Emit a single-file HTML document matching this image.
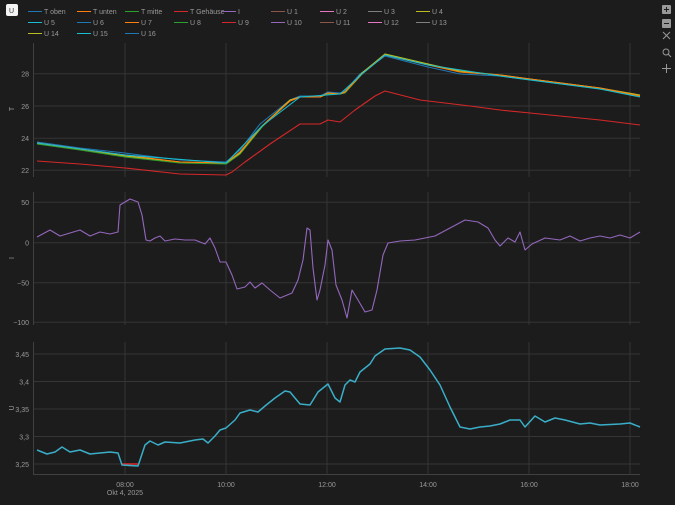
<!DOCTYPE html>
<html><head><meta charset="utf-8"><style>
body{margin:0;background:#1c1c1c;width:675px;height:500px;overflow:hidden;font-family:"Liberation Sans",sans-serif}
text{font-family:"Liberation Sans",sans-serif;fill:#999;font-size:7px}
</style></head><body>
<svg width="675" height="500" xmlns="http://www.w3.org/2000/svg">
<rect width="675" height="500" fill="#1c1c1c"/>
<rect x="6" y="4" width="12" height="12" rx="2" fill="#f4f4f4"/>
<text x="9" y="13" style="fill:#333;font-size:7px">U</text>
<g fill="none" stroke-width="1">
<g stroke="#353535">
<line x1="34" y1="73.7" x2="640" y2="73.7"/><line x1="34" y1="106" x2="640" y2="106"/><line x1="34" y1="138.3" x2="640" y2="138.3"/><line x1="34" y1="170.3" x2="640" y2="170.3"/>
<line x1="34" y1="202.3" x2="640" y2="202.3"/><line x1="34" y1="242.7" x2="640" y2="242.7"/><line x1="34" y1="282.7" x2="640" y2="282.7"/><line x1="34" y1="322.3" x2="640" y2="322.3"/>
<line x1="34" y1="354" x2="640" y2="354"/><line x1="34" y1="381.5" x2="640" y2="381.5"/><line x1="34" y1="409" x2="640" y2="409"/><line x1="34" y1="436.5" x2="640" y2="436.5"/><line x1="34" y1="464" x2="640" y2="464"/>
<path d="M125 43V177M226 43V177M327 43V177M428 43V177M529 43V177M630 43V177"/>
<path d="M125 192V325M226 192V325M327 192V325M428 192V325M529 192V325M630 192V325"/>
<path d="M125 342V475M226 342V475M327 342V475M428 342V475M529 342V475M630 342V475"/>
</g>
<g stroke="#404040"><path d="M33.5 43V177M33.5 192V325M33.5 342V475M34 474.5H640"/></g>
</g>
<g text-anchor="end">
<text x="29" y="76.5">28</text><text x="29" y="109">26</text><text x="29" y="141">24</text><text x="29" y="173">22</text>
<text x="29" y="205">50</text><text x="29" y="245.5">0</text><text x="29" y="285.5">−50</text><text x="29" y="325">−100</text>
<text x="29" y="357">3,45</text><text x="29" y="384.5">3,4</text><text x="29" y="412">3,35</text><text x="29" y="439.5">3,3</text><text x="29" y="467">3,25</text>
</g>
<text x="11" y="112" transform="rotate(-90 11 109)" text-anchor="middle">T</text>
<text x="11" y="261" transform="rotate(-90 11 258)" text-anchor="middle">I</text>
<text x="11" y="411" transform="rotate(-90 11 408)" text-anchor="middle">U</text>
<g text-anchor="middle">
<text x="125" y="487">08:00</text><text x="125" y="495">Okt 4, 2025</text>
<text x="226" y="487">10:00</text><text x="327" y="487">12:00</text><text x="428" y="487">14:00</text><text x="529" y="487">16:00</text><text x="630" y="487">18:00</text>
</g>
<g fill="none" stroke-width="1.1" stroke-linejoin="round">
<path stroke="#1f77b4" d="M37 142 L80 148 L125 153 L140 155 L180 160 L226 162 L240 150 L260 124 L290 100 L300 96 L320 96 L328 92 L340 93 L345 91 L360 74 L385 56 L428 67 L460 74 L500 76 L530 80 L600 89 L640 96"/>
<path stroke="#2ca02c" d="M37 144 L80 150 L125 157 L180 163 L226 164 L240 154 L262 127 L290 101 L300 97 L320 97 L328 94 L340 94 L345 93 L362 74 L385 54 L428 64 L460 72 L500 75 L530 79 L600 88 L640 96"/>
<path stroke="#bcbd22" d="M37 143 L80 149 L125 156 L180 162 L226 163 L240 153 L262 126 L290 100 L300 97 L320 97 L328 93 L340 94 L345 92 L362 73 L385 54 L428 64 L460 71 L500 75 L530 79 L600 88 L640 95"/>
<path stroke="#ff7f0e" d="M37 143 L80 149 L125 155 L180 162 L226 163 L240 152 L262 126 L290 101 L300 97 L320 97 L328 93 L340 94 L345 92 L362 74 L385 55 L428 65 L460 72 L500 75 L530 79 L600 88 L640 96"/>
<path stroke="#17becf" d="M37 143 L125 155 L226 163 L262 126 L300 97 L340 94 L362 74 L385 55 L428 65 L500 76 L600 89 L640 97"/>
<path stroke="#d62728" d="M37 161 L80 164 L125 168 L180 174 L226 175 L232 172 L245 162 L270 144 L300 124 L320 124 L328 120 L340 122 L355 110 L375 96 L385 91 L420 100 L470 106 L500 110 L530 113 L600 120 L640 125"/>
<path stroke="#9467bd" d="M37 237 L50 230 L60 236 L70 233 L80 230 L90 236 L100 232 L110 234 L118 232 L120 205 L130 199 L138 202 L142 215 L146 240 L150 241 L155 238 L160 236 L165 241 L175 239 L185 240 L195 240 L205 244 L210 238 L215 248 L220 262 L226 262 L232 275 L237 289 L245 287 L250 282 L255 288 L262 283 L270 290 L280 298 L292 293 L298 280 L303 260 L307 228 L310 230 L313 268 L317 300 L320 290 L325 265 L328 240 L332 250 L336 285 L342 300 L347 318 L352 290 L358 300 L365 312 L372 310 L377 290 L383 255 L388 243 L400 241 L415 240 L425 238 L435 236 L450 228 L465 220 L478 222 L488 228 L495 240 L500 246 L508 238 L515 242 L520 232 L525 250 L532 244 L545 238 L560 240 L570 236 L580 241 L590 238 L600 236 L610 238 L620 235 L630 238 L640 232"/>
<path stroke="#d62728" stroke-width="1.6" d="M122 464 L138 464"/>
<path stroke="#3aaec8" stroke-width="1.5" d="M37 450 L47 454 L55 452 L62 447 L70 452 L80 450 L90 454 L110 452 L118 453 L122 465 L138 466 L145 445 L150 441 L158 445 L165 442 L180 443 L195 440 L203 439 L208 443 L215 436 L220 430 L226 428 L235 420 L240 413 L250 410 L258 412 L265 406 L275 398 L285 391 L290 392 L300 404 L310 405 L318 392 L328 384 L335 398 L340 402 L345 385 L350 380 L355 382 L360 372 L370 364 L375 356 L385 349 L400 348 L410 350 L420 357 L430 370 L440 385 L450 407 L460 427 L470 429 L480 427 L490 426 L500 424 L510 420 L520 420 L525 427 L535 416 L545 422 L555 418 L565 420 L580 424 L590 423 L600 425 L620 424 L630 423 L640 427"/>
</g>
<g stroke-width="1">
<line x1="28" y1="11.5" x2="42" y2="11.5" stroke="#1f77b4"/><text x="44" y="14">T oben</text>
<line x1="77" y1="11.5" x2="91" y2="11.5" stroke="#ff7f0e"/><text x="93" y="14">T unten</text>
<line x1="125" y1="11.5" x2="139" y2="11.5" stroke="#2ca02c"/><text x="141" y="14">T mitte</text>
<line x1="174" y1="11.5" x2="188" y2="11.5" stroke="#d62728"/><text x="190" y="14">T Gehäuse</text>
<line x1="222" y1="11.5" x2="236" y2="11.5" stroke="#9467bd"/><text x="238" y="14">I</text>
<line x1="271" y1="11.5" x2="285" y2="11.5" stroke="#8c564b"/><text x="287" y="14">U 1</text>
<line x1="320" y1="11.5" x2="334" y2="11.5" stroke="#e377c2"/><text x="336" y="14">U 2</text>
<line x1="368" y1="11.5" x2="382" y2="11.5" stroke="#7f7f7f"/><text x="384" y="14">U 3</text>
<line x1="416" y1="11.5" x2="430" y2="11.5" stroke="#bcbd22"/><text x="432" y="14">U 4</text>
<line x1="28" y1="22.5" x2="42" y2="22.5" stroke="#17becf"/><text x="44" y="25">U 5</text>
<line x1="77" y1="22.5" x2="91" y2="22.5" stroke="#1f77b4"/><text x="93" y="25">U 6</text>
<line x1="125" y1="22.5" x2="139" y2="22.5" stroke="#ff7f0e"/><text x="141" y="25">U 7</text>
<line x1="174" y1="22.5" x2="188" y2="22.5" stroke="#2ca02c"/><text x="190" y="25">U 8</text>
<line x1="222" y1="22.5" x2="236" y2="22.5" stroke="#d62728"/><text x="238" y="25">U 9</text>
<line x1="271" y1="22.5" x2="285" y2="22.5" stroke="#9467bd"/><text x="287" y="25">U 10</text>
<line x1="320" y1="22.5" x2="334" y2="22.5" stroke="#8c564b"/><text x="336" y="25">U 11</text>
<line x1="368" y1="22.5" x2="382" y2="22.5" stroke="#e377c2"/><text x="384" y="25">U 12</text>
<line x1="416" y1="22.5" x2="430" y2="22.5" stroke="#7f7f7f"/><text x="432" y="25">U 13</text>
<line x1="28" y1="33.5" x2="42" y2="33.5" stroke="#bcbd22"/><text x="44" y="36">U 14</text>
<line x1="77" y1="33.5" x2="91" y2="33.5" stroke="#17becf"/><text x="93" y="36">U 15</text>
<line x1="125" y1="33.5" x2="139" y2="33.5" stroke="#1f77b4"/><text x="141" y="36">U 16</text>
</g>
<g fill="#999">
<rect x="662" y="5" width="9" height="9" rx="1"/><rect x="662" y="19" width="9" height="9" rx="1"/>
<rect x="664" y="9" width="5" height="1" fill="#1c1c1c"/><rect x="666" y="7" width="1" height="5" fill="#1c1c1c"/>
<rect x="664" y="23" width="5" height="1" fill="#1c1c1c"/>
</g>
<g stroke="#999" fill="none"><path d="M663 32l7 7M670 32l-7 7"/><circle cx="666" cy="52" r="3"/><path d="M668 54l3 3M666.5 64v9M662 68.5h9"/></g>
</svg>
</body></html>
